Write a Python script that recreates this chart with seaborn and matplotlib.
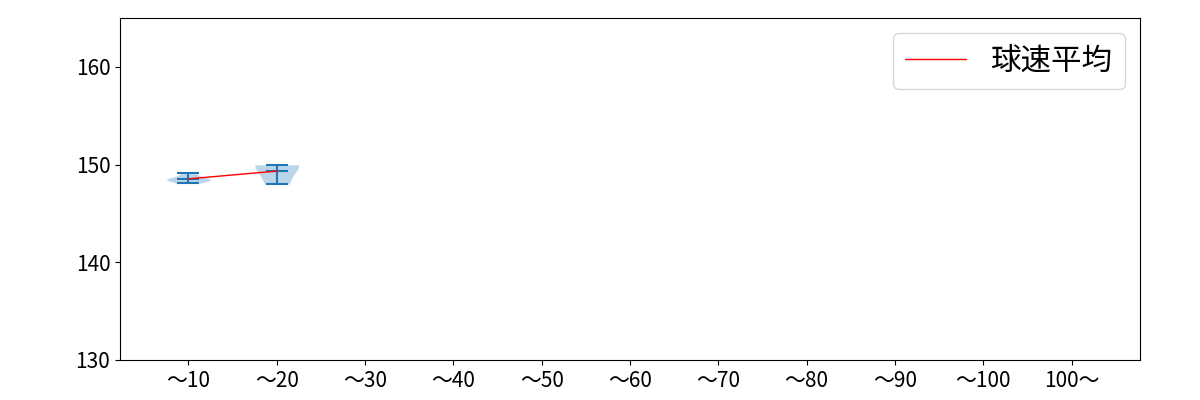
import numpy as np
import matplotlib
matplotlib.use("Agg")
import matplotlib.pyplot as plt
import seaborn as sns

# pitch count bins and ball speeds (km/h)
labels = ["〜10", "〜20", "〜30", "〜40", "〜50", "〜60", "〜70", "〜80", "〜90", "〜100", "100〜"]
speeds_10 = [148.1, 148.5, 148.5, 148.5, 149.1]
speeds_20 = [148.0, 150.0, 150.0]
empty = [0.0]
data = [speeds_10, speeds_20] + [empty] * 9
means = [np.mean(speeds_10), np.mean(speeds_20)]
yticks = [130, 140, 150, 160]

sns.set_style("ticks", {"axes.edgecolor": "black", "xtick.color": "black",
                        "ytick.color": "black", "text.color": "black"})
plt.rcParams['font.family'] = ['Noto Sans CJK JP', 'DejaVu Sans']

fig, ax = plt.subplots(figsize=(12, 4), dpi=100)
fig.subplots_adjust(left=0.1, right=0.95, top=0.955, bottom=0.1)

positions = list(range(1, len(labels) + 1))
ax.violinplot(data, positions=positions, showmeans=True)
sns.lineplot(x=positions[:len(means)], y=means, color="red", linewidth=1, label="球速平均", ax=ax)

ax.set_xticks(positions)
ax.set_xticklabels(labels, fontsize=15)
ax.set_yticks(yticks)
ax.tick_params(axis="y", labelsize=15)
ax.set_ylim(130, 165)
ax.legend(fontsize=22, loc="upper right")

fig.savefig("out.png")
